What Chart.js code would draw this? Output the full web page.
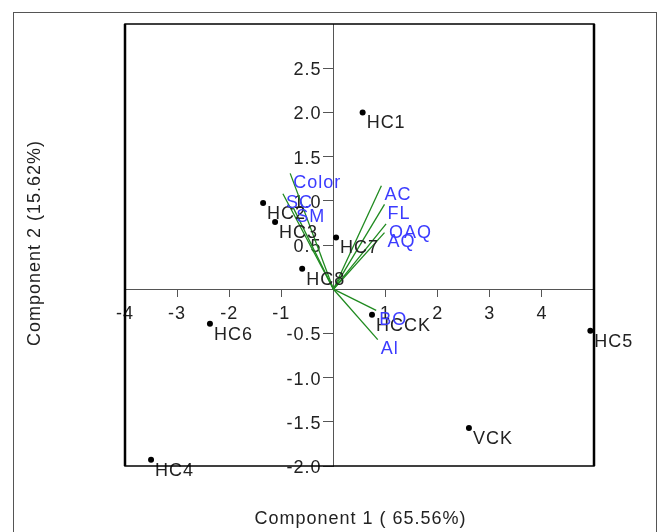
<!DOCTYPE html>
<html>
<head>
<meta charset="utf-8">
<script src="https://cdn.jsdelivr.net/npm/chart.js@4/dist/chart.umd.min.js"></script>
<style>
  body { margin: 0; background: #fff; }
  canvas { display: block; }
</style>
</head>
<body>
<canvas id="biplot" width="660" height="532"></canvas>
<script>
// sample scores
const sampleNames = ["HC1", "HC2", "HC3", "HC4", "HC5", "HC6", "HC7", "HC8", "HCCK", "VCK"];
const sampleX = [0.56, -1.35, -1.12, -3.5, 4.93, -2.37, 0.05, -0.6, 0.74, 2.6];
const sampleY = [2.0, 0.975, 0.76, -1.93, -0.47, -0.39, 0.585, 0.23, -0.29, -1.57];

// variable loadings (drawn as vectors from the origin)
const loadingNames = ["Color", "SC", "SM", "AC", "FL", "OAQ", "AQ", "BO", "Al"];
const loadingX = [-0.83, -0.97, -0.77, 0.92, 0.98, 1.01, 0.98, 0.82, 0.85];
const loadingY = [1.31, 1.08, 0.92, 1.17, 0.96, 0.74, 0.64, -0.24, -0.57];

const xTicks = [-4, -3, -2, -1, 1, 2, 3, 4];
const yTicks = [-2.0, -1.5, -1.0, -0.5, 0.5, 1.0, 1.5, 2.0, 2.5];

const xTitle = "Component 1 ( 65.56%)";
const yTitle = "Component 2 (15.62%)";

const FONT = '18px "Liberation Sans", Arial, sans-serif';

let datasets = [{
    type: 'scatter',
    data: sampleX.map((x, i) => ({x: x, y: sampleY[i]})),
    backgroundColor: "#000",
    borderWidth: 0,
    pointRadius: 3
}];
loadingNames.forEach((name, i) => {
    datasets.push({
        type: 'scatter',
        data: [{x: 0, y: 0}, {x: loadingX[i], y: loadingY[i]}],
        showLine: true,
        borderColor: "#1f8a1f",
        borderWidth: 1.3,
        pointRadius: 0
    });
});

const spacingPlugin = {
    id: 'spacing',
    beforeDraw(chart) {
        chart.ctx.letterSpacing = '1px';
    }
};

const labelPlugin = {
    id: 'labels',
    afterDatasetsDraw(chart) {
        const ctx = chart.ctx;
        ctx.save();
        ctx.letterSpacing = '1px';
        ctx.font = FONT;
        ctx.textAlign = 'left';
        ctx.textBaseline = 'alphabetic';

        ctx.fillStyle = "#222";
        chart.getDatasetMeta(0).data.forEach((pt, i) => {
            ctx.fillText(sampleNames[i], pt.x + 4, pt.y + 16);
        });

        ctx.fillStyle = "#3b3bff";
        loadingNames.forEach((name, i) => {
            let pt = chart.getDatasetMeta(i + 1).data[1];
            ctx.fillText(name, pt.x + 3, pt.y + 14.5);
        });
        ctx.restore();
    }
};

const framePlugin = {
    id: 'frame',
    afterDraw(chart) {
        const ctx = chart.ctx;
        const a = chart.chartArea;
        ctx.save();
        // outer box
        ctx.strokeStyle = "#555";
        ctx.lineWidth = 1;
        ctx.strokeRect(13.5, 12.5, 643, 540);
        // plot box: thin top/bottom, heavier sides
        ctx.strokeStyle = "#000";
        ctx.lineWidth = 1.5;
        ctx.strokeRect(a.left, a.top, a.right - a.left, a.bottom - a.top);
        ctx.lineWidth = 2.5;
        ctx.beginPath();
        ctx.moveTo(a.left, a.top); ctx.lineTo(a.left, a.bottom);
        ctx.moveTo(a.right, a.top); ctx.lineTo(a.right, a.bottom);
        ctx.stroke();

        // axis titles
        ctx.letterSpacing = '1px';
        ctx.font = FONT;
        ctx.fillStyle = "#222";
        ctx.textAlign = 'center';
        ctx.textBaseline = 'middle';
        ctx.fillText(xTitle, (a.left + a.right) / 2 + 1, 519);
        ctx.translate(35, 243);
        ctx.rotate(-Math.PI / 2);
        ctx.fillText(yTitle, 0, 0);
        ctx.restore();
    }
};

new Chart(document.querySelector("#biplot").getContext("2d"), {
    data: {datasets: datasets},
    options: {
        responsive: false,
        animation: false,
        devicePixelRatio: 1,
        layout: {padding: {left: 125, right: 66, top: 24, bottom: 66}},
        plugins: {legend: {display: false}, tooltip: {enabled: false}},
        scales: {
            x: {
                type: 'linear',
                min: -4,
                max: 5,
                position: {y: 0},
                afterBuildTicks: axis => { axis.ticks = xTicks.map(v => ({value: v})); },
                ticks: {
                    color: "#222",
                    font: {family: '"Liberation Sans", Arial', size: 18},
                    padding: 7,
                    maxRotation: 0,
                    callback: v => String(v)
                },
                grid: {drawOnChartArea: false, drawTicks: true, tickLength: 7, color: "#555"},
                border: {display: true, color: "#555", width: 1}
            },
            y: {
                type: 'linear',
                min: -2,
                max: 3,
                position: {x: 0},
                afterBuildTicks: axis => { axis.ticks = yTicks.map(v => ({value: v})); },
                ticks: {
                    color: "#222",
                    font: {family: '"Liberation Sans", Arial', size: 18},
                    padding: 2,
                    labelOffset: 2,
                    // labels of an axis placed at x = 0 are anchored on the axis line itself,
                    // trailing spaces keep them clear of the tick marks
                    callback: v => v.toFixed(1) + "  "
                },
                grid: {drawOnChartArea: false, drawTicks: true, tickLength: 10, color: "#555"},
                border: {display: true, color: "#555", width: 1}
            }
        }
    },
    plugins: [spacingPlugin, labelPlugin, framePlugin]
});
</script>
</body>
</html>
